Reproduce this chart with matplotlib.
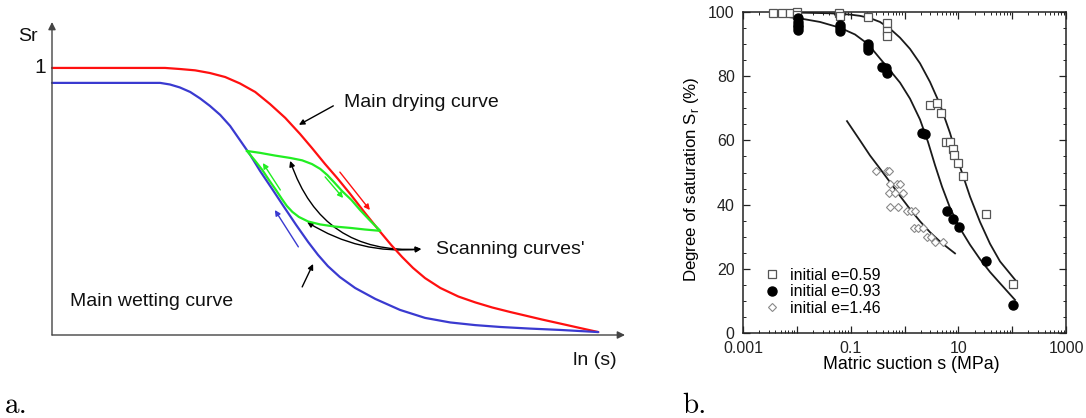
import matplotlib
matplotlib.use("Agg")
import matplotlib.pyplot as plt
from matplotlib.patches import FancyArrowPatch
from matplotlib.ticker import MultipleLocator, LogLocator, NullFormatter, FixedLocator, FixedFormatter

plt.rcParams['font.family'] = ['Liberation Sans', 'DejaVu Sans']

# ---------------- (a) conceptual water retention curves ----------------
# x: ln(s) in arbitrary units, Sr: degree of saturation
drying_x = [0, 0.207, 0.234, 0.262, 0.289, 0.317, 0.344, 0.372, 0.399, 0.427, 0.454,
            0.476, 0.500, 0.522, 0.546, 0.573, 0.601, 0.621, 0.641, 0.661, 0.683,
            0.711, 0.744, 0.775, 0.806, 0.839, 0.866, 0.897, 0.930, 0.967, 1.0]
drying_sr = [1.0, 1.0, 0.996, 0.991, 0.981, 0.966, 0.942, 0.910, 0.865, 0.813, 0.753,
             0.700, 0.640, 0.588, 0.528, 0.457, 0.386, 0.337, 0.292, 0.251, 0.213,
             0.176, 0.144, 0.122, 0.103, 0.086, 0.073, 0.058, 0.043, 0.026, 0.011]

wetting_x = [0, 0.198, 0.216, 0.234, 0.253, 0.271, 0.289, 0.308, 0.326, 0.344, 0.363,
             0.381, 0.403, 0.425, 0.447, 0.469, 0.487, 0.505, 0.527, 0.555, 0.592,
             0.637, 0.683, 0.729, 0.775, 0.821, 0.875, 0.930, 1.0]
wetting_sr = [0.944, 0.944, 0.938, 0.927, 0.910, 0.886, 0.858, 0.824, 0.783, 0.730, 0.674,
              0.614, 0.547, 0.479, 0.412, 0.348, 0.300, 0.258, 0.217, 0.176, 0.135,
              0.094, 0.064, 0.047, 0.037, 0.030, 0.024, 0.019, 0.011]

scan_x = [0.357, 0.381, 0.408, 0.436, 0.458, 0.476, 0.491, 0.504, 0.516, 0.531, 0.548,
          0.564, 0.582, 0.601, 0.573, 0.546, 0.518, 0.491, 0.469, 0.452, 0.440,
          0.430, 0.421, 0.410, 0.397, 0.385, 0.372, 0.357]
scan_sr = [0.689, 0.682, 0.672, 0.663, 0.654, 0.640, 0.622, 0.599, 0.573, 0.539, 0.506,
           0.468, 0.429, 0.390, 0.395, 0.401, 0.406, 0.414, 0.425, 0.442, 0.461,
           0.483, 0.509, 0.543, 0.581, 0.618, 0.652, 0.689]

# ---------------- (b) measured retention data ----------------
sq_s = [0.0036, 0.0053, 0.0075, 0.010, 0.010, 0.060, 0.063, 0.21, 0.47, 0.47, 0.47,
        3.0, 4.0, 4.8, 5.9, 7.0, 8.0, 8.3, 9.9, 12.2, 33, 103]
sq_sr = [99.7, 99.7, 99.7, 100.0, 99.0, 99.8, 98.8, 98.3, 96.6, 94.0, 92.5,
         71.0, 71.7, 68.4, 59.6, 59.6, 57.3, 55.5, 52.9, 48.9, 37.0, 15.2]

ci_s = [0.0105, 0.0105, 0.0105, 0.0105, 0.0105, 0.063, 0.063, 0.063, 0.21, 0.21, 0.21,
        0.38, 0.45, 0.47, 2.1, 2.4, 6.1, 8.1, 10.2, 33, 102]
ci_sr = [98.0, 97.0, 96.0, 95.2, 94.5, 96.0, 95.0, 94.0, 90.0, 89.0, 88.3,
         83.0, 82.5, 81.0, 62.3, 62.0, 38.1, 35.5, 33.1, 22.4, 8.7]

di_s = [0.30, 0.47, 0.52, 0.54, 0.74, 0.83, 0.52, 0.67, 0.93, 0.54, 0.77,
        1.10, 1.30, 1.57, 1.52, 1.81, 2.24, 2.59, 3.07, 3.69, 5.26]
di_sr = [50.6, 50.6, 50.6, 46.3, 46.3, 46.3, 43.5, 43.5, 43.5, 39.2, 39.2,
         38.1, 38.1, 38.1, 32.6, 32.6, 32.6, 29.8, 29.8, 28.4, 28.4]

fit059_s = [0.00318, 0.01145, 0.0413, 0.0972, 0.149, 0.2287, 0.3508, 0.538, 0.825,
            1.266, 1.942, 2.978, 4.567, 7.005, 10.74, 16.48, 25.28, 38.78, 59.48, 113.0]
fit059_sr = [99.8, 99.8, 99.6, 99.2, 98.8, 98.1, 96.9, 94.8, 92.0,
             88.5, 84.0, 78.2, 71.2, 62.3, 51.8, 42.5, 34.6, 27.8, 22.3, 16.6]

fit093_s = [0.00318, 0.01145, 0.02693, 0.0634, 0.1204, 0.21, 0.3508, 0.538, 0.825,
            1.266, 1.942, 2.733, 3.688, 4.975, 7.005, 10.74, 16.48, 25.28, 38.78,
            59.48, 113.0]
fit093_sr = [99.1, 98.0, 96.9, 95.1, 93.0, 90.0, 85.5, 81.8, 78.0,
             73.0, 66.5, 59.5, 52.3, 45.6, 39.0, 32.6, 27.5, 23.0, 19.0,
             15.5, 10.3]

fit146_s = [0.0855, 0.149, 0.2287, 0.3508, 0.538, 0.825, 1.266, 1.942, 2.978,
            4.567, 6.43, 8.675]
fit146_sr = [66.0, 60.0, 55.3, 51.2, 47.0, 42.7, 38.6, 34.8, 31.4,
             28.5, 26.5, 24.8]

x_tick_vals = [1e-3, 1e-2, 1e-1, 1e0, 1e1, 1e2, 1e3]
x_tick_text = ['0.001', '', '0.1', '', '10', '', '1000']

W, H = 1086, 418
fig = plt.figure(figsize=(W / 100, H / 100), dpi=100)

# ---------------- panel (a) ----------------
axa = fig.add_axes([52 / W, (H - 335) / H, 573 / W, 313 / H])
axa.set_xlim(0, 1.049)
axa.set_ylim(0, 1.172)
axa.axis('off')

axis_arrow = dict(arrowstyle='-|>', color='#444444', lw=1.0, mutation_scale=11,
                  shrinkA=0, shrinkB=0)
axa.annotate('', xy=(1.049, 0), xytext=(0, 0), arrowprops=axis_arrow, annotation_clip=False)
axa.annotate('', xy=(0, 1.172), xytext=(0, 0), arrowprops=axis_arrow, annotation_clip=False)

axa.plot(drying_x, drying_sr, color='#ff1010', lw=1.6, solid_capstyle='round',
         solid_joinstyle='round', clip_on=False)
axa.plot(wetting_x, wetting_sr, color='#3a3ad0', lw=1.6, solid_capstyle='round',
         solid_joinstyle='round', clip_on=False)
axa.plot(scan_x, scan_sr, color='#22ee22', lw=1.6, solid_joinstyle='round')


def small_arrow(tail, head, color, lw=1.0, ms=8):
    axa.annotate('', xy=head, xytext=tail,
                 arrowprops=dict(arrowstyle='-|>', color=color, lw=lw,
                                 mutation_scale=ms, shrinkA=0, shrinkB=0))


small_arrow((0.418, 0.543), (0.386, 0.644), '#22ee22')
small_arrow((0.500, 0.592), (0.533, 0.513), '#22ee22')
small_arrow((0.527, 0.610), (0.582, 0.468), '#ff1010')
small_arrow((0.451, 0.330), (0.408, 0.468), '#3a3ad0')
small_arrow((0.515, 0.858), (0.452, 0.787), 'black')
small_arrow((0.458, 0.180), (0.478, 0.266), 'black')

scan_tip = (0.676, 0.322)
for end, rad in [((0.436, 0.652), -0.38), ((0.467, 0.423), -0.17)]:
    axa.add_patch(FancyArrowPatch(scan_tip, end, arrowstyle='<|-|>', mutation_scale=8,
                                  connectionstyle=f'arc3,rad={rad}', color='black',
                                  lw=1.0, shrinkA=0, shrinkB=0))

txt = dict(fontsize=14, color='#111111')
axa.text(0.535, 0.869, 'Main drying curve', ha='left', va='center', **txt)
axa.text(0.703, 0.322, "Scanning curves'", ha='left', va='center', **txt)
axa.text(0.033, 0.124, 'Main wetting curve', ha='left', va='center', **txt)
axa.text(0.954, -0.094, 'ln (s)', ha='left', va='center', **txt)
axa.text(-0.044, 1.116, 'Sr', ha='center', va='center', **txt)
axa.text(-0.021, 1.0, '1', ha='center', va='center', fontsize=15, color='#111111')

fig.text(5 / W, (H - 413) / H, 'a.', family='cmr10', fontsize=21, ha='left', va='baseline')

# ---------------- panel (b) ----------------
axb = fig.add_axes([743 / W, (H - 333) / H, 323 / W, 321 / H])
axb.set_xscale('log')
axb.set_xlim(1e-3, 1e3)
axb.set_ylim(0, 100)

line_kw = dict(color='#1a1a1a', lw=1.3, solid_joinstyle='round')
axb.plot(fit059_s, fit059_sr, **line_kw)
axb.plot(fit093_s, fit093_sr, **line_kw)
axb.plot(fit146_s, fit146_sr, **line_kw)

axb.plot(sq_s, sq_sr, ls='none', marker='s', ms=6, mfc='white', mec='#555555', mew=0.9,
         label='initial e=0.59', clip_on=False, zorder=3)
axb.plot(ci_s, ci_sr, ls='none', marker='o', ms=6.5, mfc='black', mec='black',
         label='initial e=0.93', zorder=3)
axb.plot(di_s, di_sr, ls='none', marker='D', ms=4.5, mfc='white', mec='#888888', mew=0.8,
         label='initial e=1.46', zorder=3)

axb.xaxis.set_major_locator(FixedLocator(x_tick_vals))
axb.xaxis.set_major_formatter(FixedFormatter(x_tick_text))
axb.xaxis.set_minor_locator(LogLocator(base=10, subs=range(2, 10), numticks=20))
axb.xaxis.set_minor_formatter(NullFormatter())
axb.yaxis.set_major_locator(MultipleLocator(20))
axb.yaxis.set_minor_locator(MultipleLocator(5))
axb.tick_params(which='both', direction='in', top=True, right=True, colors='#222222')
axb.tick_params(which='major', length=5, width=0.9, labelsize=11.5, pad=6)
axb.tick_params(which='minor', length=2.5, width=0.7)
for sp in axb.spines.values():
    sp.set_linewidth(1.1)
    sp.set_color('#222222')

axb.set_xlabel('Matric suction s (MPa)', fontsize=12.8)
axb.set_ylabel(r'Degree of saturation S$_\mathregular{r}$ (%)', fontsize=12.2)
axb.xaxis.set_label_coords(0.522, -0.072)
axb.yaxis.set_label_coords(-0.13, 0.48)

axb.legend(loc='lower left', bbox_to_anchor=(0.065, 0.053), frameon=False,
           fontsize=11.5, handlelength=1.0, handletextpad=0.6, labelspacing=0.1,
           borderpad=0, borderaxespad=0)

fig.text(682 / W, (H - 413) / H, 'b.', family='cmr10', fontsize=21, ha='left', va='baseline')

fig.savefig('out.png', dpi=100)
